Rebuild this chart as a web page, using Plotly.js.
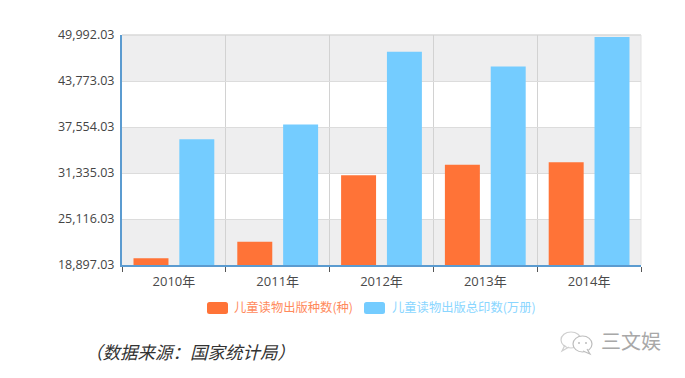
<!DOCTYPE html>
<html><head><meta charset="utf-8">
<script src="https://cdn.plot.ly/plotly-3.0.1.min.js"></script>
<style>html,body{margin:0;padding:0;background:#fff}#c{width:685px;height:378px}</style>
</head><body><div id="c"></div>
<script>
const years = ['2010年','2011年','2012年','2013年','2014年'];
const speciesName = '儿童读物出版种数(种)';
const printName = '儿童读物出版总印数(万册)';
const species = [19820, 22040, 31020, 32450, 32790];
const prints = [35900, 37890, 47730, 45750, 49720];
const yTicks = [18897.03, 25116.03, 31335.03, 37554.03, 43773.03, 49992.03];
const sourceText = '（数据来源：国家统计局）';
const brandText = '三文娱';

const W = 685, H = 378, L = 122, R = 641, T = 35, B = 265;
const px = x => (x - L) / (R - L);
const py = y => (B - y) / (B - T);
const font = '"Noto Sans CJK SC","Noto Sans",sans-serif';
const numFont = '"Open Sans","Noto Sans CJK SC",sans-serif';
const ORANGE = '#ff7337', BLUE = '#74ccff';

const shapes = [];
for (let i = 0; i < 5; i += 2) {
  shapes.push({type:'rect', xref:'paper', yref:'y', x0:0, x1:1, y0:yTicks[i], y1:yTicks[i+1],
    fillcolor:'#eeeeef', line:{width:0}, layer:'below'});
}
function pill(x0, x1, y0, y1, color) {
  const r = 2.5;
  const sx = px, sy = py;
  const path = `M${sx(x0+r)},${sy(y0)} L${sx(x1-r)},${sy(y0)} Q${sx(x1)},${sy(y0)} ${sx(x1)},${sy(y0+r)} L${sx(x1)},${sy(y1-r)} Q${sx(x1)},${sy(y1)} ${sx(x1-r)},${sy(y1)} L${sx(x0+r)},${sy(y1)} Q${sx(x0)},${sy(y1)} ${sx(x0)},${sy(y1-r)} L${sx(x0)},${sy(y0+r)} Q${sx(x0)},${sy(y0)} ${sx(x0+r)},${sy(y0)} Z`;
  return {type:'path', xref:'paper', yref:'paper', path, fillcolor:color, line:{width:0}};
}
shapes.push(pill(207, 228, 302, 314, ORANGE));
shapes.push(pill(364, 385, 302, 314, BLUE));
// top and right frame
shapes.push({type:'line', xref:'paper', yref:'paper', x0:0, x1:1, y0:1, y1:1, line:{color:'#d9d9d9', width:1.5}, layer:'below'});
shapes.push({type:'line', xref:'paper', yref:'paper', x0:1, x1:1, y0:0, y1:1, line:{color:'#e2e2e2', width:1}, layer:'below'});
// watermark bubbles with tails and eyes
const wm = (d, color, fill) => ({type:'path', xref:'paper', yref:'paper', path:d, line:{color, width:1.2}, fillcolor:fill||'rgba(255,255,255,0)'});
const seg = pts => 'M' + pts.map(p => px(p[0]) + ',' + py(p[1])).join(' L');
shapes.push({type:'circle', xref:'paper', yref:'paper', x0:px(561), x1:px(581), y0:py(348), y1:py(332), line:{color:'#cfcfcf', width:1.2}, fillcolor:'rgba(255,255,255,0)'});
shapes.push(wm(seg([[565,345],[562,351],[569,347]]), '#cfcfcf'));
shapes.push({type:'circle', xref:'paper', yref:'paper', x0:px(573), x1:px(592), y0:py(352), y1:py(336), line:{color:'#bdbdbd', width:1.2}, fillcolor:'#ffffff'});
shapes.push(wm(seg([[587,349],[590,354],[583,351]]), '#bdbdbd', '#ffffff'));
[[579,343],[586,343]].forEach(e => shapes.push({type:'circle', xref:'paper', yref:'paper',
  x0:px(e[0]-1), x1:px(e[0]+1), y0:py(e[1]+1), y1:py(e[1]-1), line:{width:0}, fillcolor:'#bdbdbd'}));

const ann = (text, x, y, size, color, anchor, extra) => Object.assign({
  text, xref:'paper', yref:'paper', x:px(x), y:py(y), xanchor:anchor||'left', yanchor:'middle',
  showarrow:false, font:{family:font, size, color}, borderpad:0
}, extra||{});

Plotly.newPlot('c', [
  {type:'bar', name:speciesName, x:years, y:species, marker:{color:ORANGE}},
  {type:'bar', name:printName, x:years, y:prints, marker:{color:BLUE}}
], {
  width:W, height:H, paper_bgcolor:'#fff', plot_bgcolor:'#fff', showlegend:false,
  margin:{l:L, r:W-R, t:T, b:H-B, pad:0},
  barmode:'group', bargap:0.117, bargroupgap:0.237,
  font:{family:font, color:'#444'},
  xaxis:{type:'category', tickson:'boundaries', ticks:'outside', ticklen:5, tickcolor:'#555', tickwidth:1,
    ticklabelstandoff:3,
    showgrid:true, gridcolor:'#d2d2d2', gridwidth:1,
    showline:true, linecolor:'#5b9bd0', linewidth:2, tickfont:{family:numFont, size:13, color:'#4a4a4a'}, fixedrange:true},
  yaxis:{range:[yTicks[0], yTicks[5]], tickmode:'array', tickvals:yTicks,
    ticktext:yTicks.map(v => v.toLocaleString('en-US',{minimumFractionDigits:2})),
    ticks:'outside', ticklen:3, tickcolor:'rgba(0,0,0,0)',
    showgrid:true, gridcolor:'#dcdcdc', gridwidth:1, zeroline:false,
    showline:true, linecolor:'#5b9bd0', linewidth:2, tickfont:{family:numFont, size:12.5, color:'#444'}, fixedrange:true},
  shapes,
  annotations:[
    ann(speciesName, 233, 307, 12.3, '#ff8a5c'),
    ann(printName, 391, 307, 12.3, '#8ad6ff'),
    ann('<i>'+sourceText+'</i>', 84, 351, 17.5, '#333'),
    ann(brandText, 600, 340, 20, '#a8a8a8')
  ]
}, {displayModeBar:false, staticPlot:true});
</script></body></html>
